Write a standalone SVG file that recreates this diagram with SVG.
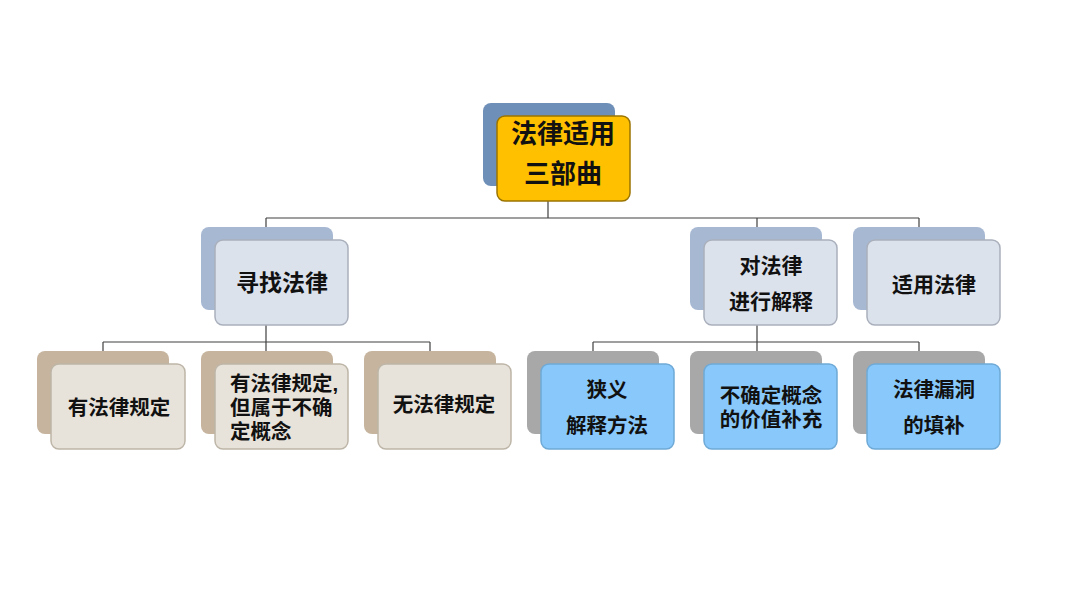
<svg xmlns="http://www.w3.org/2000/svg" width="1080" height="608" viewBox="0 0 1080 608">
<style>
text{font-family:"Liberation Sans","Noto Sans CJK SC",sans-serif;font-weight:bold;fill:#111;dominant-baseline:central;text-anchor:middle}
.t0{font-size:26px}
.t1{font-size:23px}
.t1b{font-size:21px}
.t2{font-size:20.5px}
.conn{fill:none;stroke:#404040;stroke-width:1.2}
.rb{fill:#6E8FB8}
.rf{fill:#FFC000;stroke:#9A7400;stroke-width:1.5}
.b1{fill:#A7B8D3}
.f1{fill:#DCE2EC;stroke:#A9B0BC;stroke-width:1.5}
.bt{fill:#C6B49E}
.ft{fill:#E8E3DA;stroke:#BDB5A7;stroke-width:1.5}
.bg{fill:#A8A8A8}
.fb{fill:#88C8FA;stroke:#6FA9D6;stroke-width:1.5}
</style>
<rect width="1080" height="608" fill="#fff"/>
<g id="connectors" class="conn">
<path d="M548 200V218M266 218H919M266 218V228M757 218V228M919 218V228"/>
<path d="M266 324V342M103 342H430M103 342V351M266 342V351M430 342V351"/>
<path d="M757 324V342M593 342H919M593 342V351M757 342V351M919 342V351"/>
</g>
<g id="root">
<rect class="rb" x="483" y="103" width="132" height="83" rx="8"/>
<rect class="rf" x="497" y="116" width="133" height="85" rx="8"/>
<text class="t0" x="563" y="134">法律适用</text>
<text class="t0" x="563" y="174">三部曲</text>
</g>
<g id="find-law">
<rect class="b1" x="201" y="227" width="132" height="83" rx="8"/>
<rect class="f1" x="215" y="240" width="133" height="85" rx="8"/>
<text class="t1" x="282" y="283">寻找法律</text>
</g>
<g id="interpret-law">
<rect class="b1" x="690" y="227" width="132" height="83" rx="8"/>
<rect class="f1" x="704" y="240" width="133" height="85" rx="8"/>
<text class="t1b" x="771" y="265">对法律</text>
<text class="t1b" x="771" y="301">进行解释</text>
</g>
<g id="apply-law">
<rect class="b1" x="853" y="227" width="132" height="83" rx="8"/>
<rect class="f1" x="867" y="240" width="133" height="85" rx="8"/>
<text class="t1b" x="934" y="284">适用法律</text>
</g>
<g id="has-rule">
<rect class="bt" x="37" y="351" width="132" height="83" rx="8"/>
<rect class="ft" x="51" y="364" width="134" height="85" rx="8"/>
<text class="t2" x="119" y="407">有法律规定</text>
</g>
<g id="has-rule-vague">
<rect class="bt" x="201" y="351" width="132" height="83" rx="8"/>
<rect class="ft" x="215" y="364" width="133" height="85" rx="8"/>
<text class="t2" x="230" y="383" style="text-anchor:start">有法律规定,</text>
<text class="t2" x="230" y="407" style="text-anchor:start">但属于不确</text>
<text class="t2" x="230" y="431" style="text-anchor:start">定概念</text>
</g>
<g id="no-rule">
<rect class="bt" x="364" y="351" width="132" height="83" rx="8"/>
<rect class="ft" x="378" y="364" width="133" height="85" rx="8"/>
<text class="t2" x="444" y="404">无法律规定</text>
</g>
<g id="narrow-interp">
<rect class="bg" x="527" y="351" width="132" height="83" rx="8"/>
<rect class="fb" x="541" y="364" width="133" height="85" rx="8"/>
<text class="t2" x="607" y="389">狭义</text>
<text class="t2" x="607" y="425">解释方法</text>
</g>
<g id="value-supplement">
<rect class="bg" x="690" y="351" width="132" height="83" rx="8"/>
<rect class="fb" x="704" y="364" width="133" height="85" rx="8"/>
<text class="t2" x="771" y="395">不确定概念</text>
<text class="t2" x="771" y="419">的价值补充</text>
</g>
<g id="gap-filling">
<rect class="bg" x="853" y="351" width="132" height="83" rx="8"/>
<rect class="fb" x="867" y="364" width="133" height="85" rx="8"/>
<text class="t2" x="934" y="389">法律漏洞</text>
<text class="t2" x="934" y="425">的填补</text>
</g>
</svg>
